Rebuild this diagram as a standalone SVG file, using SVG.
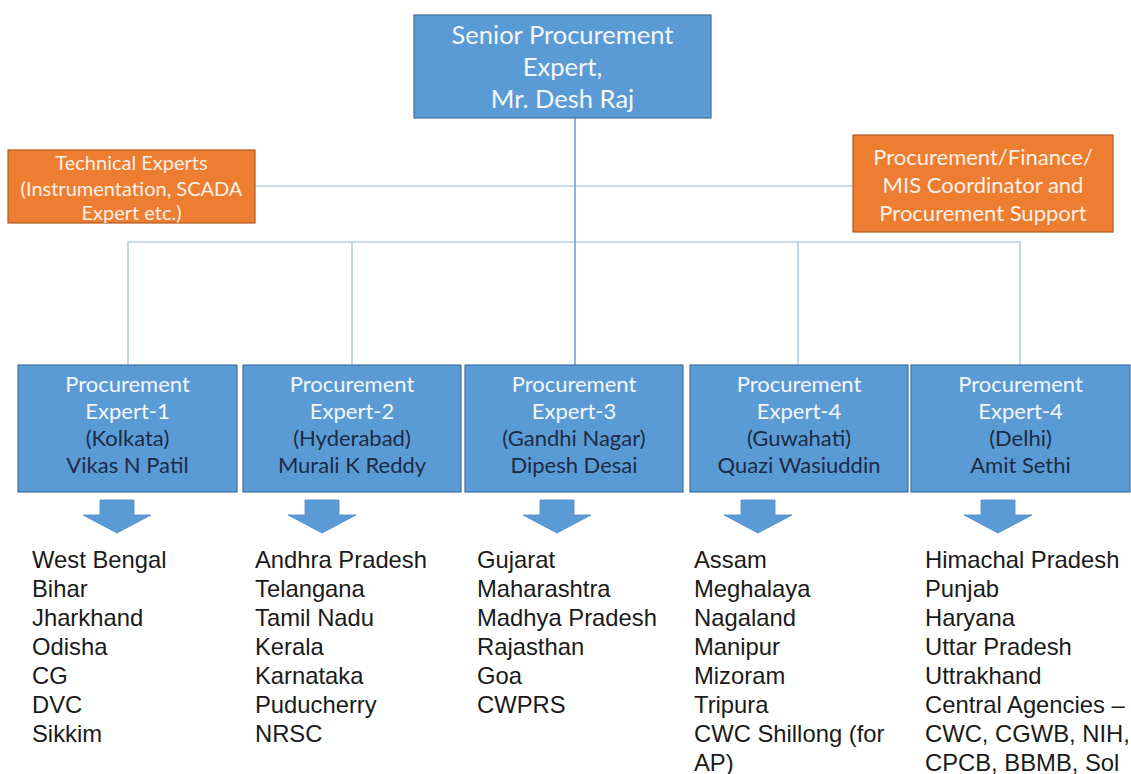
<svg xmlns="http://www.w3.org/2000/svg" width="1131" height="774" viewBox="0 0 1131 774">
  <style>
    .blue { fill: #5b9bd5; stroke: #41719c; stroke-width: 1.2; }
    .orange { fill: #ed7d31; stroke: #ae5a21; stroke-width: 1.2; }
    .hd { font-family: Lato, "Open Sans", sans-serif; text-anchor: middle; }
    .lt { fill: #f4f7fb; }
    .dk { fill: #1c2b45; }
    .ot { fill: #fdf0e6; }
    .list { font-family: "Liberation Sans", Arial, sans-serif; font-size: 23.8px; fill: #1a1a1a; }
    .bus { fill: none; stroke: #b7cbe4; stroke-width: 1.6; }
    .trunk { fill: none; stroke: #6fa3d8; stroke-width: 1.6; }
    .arrow { fill: #5b9bd5; stroke: #4b89c4; stroke-width: 0.8; }
  </style>

  <rect width="1131" height="774" fill="#ffffff"/>

  <!-- connectors -->
  <g id="connectors">
    <line class="bus" x1="255" y1="186" x2="853" y2="186"/>
    <polyline class="bus" points="128,365 128,242 1020,242 1020,365"/>
    <line class="bus" x1="352" y1="242" x2="352" y2="365"/>
    <line class="bus" x1="798" y1="242" x2="798" y2="365"/>
    <line class="trunk" x1="575" y1="118" x2="575" y2="365"/>
  </g>

  <!-- head of procurement -->
  <g id="senior">
    <rect class="blue" x="414" y="15" width="297" height="103"/>
    <g class="hd lt" font-size="25.5">
      <text x="562.5" y="44">Senior Procurement</text>
      <text x="562.5" y="76">Expert,</text>
      <text x="562.5" y="108">Mr. Desh Raj</text>
    </g>
  </g>

  <!-- support roles -->
  <g id="technical">
    <rect class="orange" x="8" y="150" width="247" height="73"/>
    <g class="hd ot" font-size="20">
      <text x="131.5" y="170">Technical Experts</text>
      <text x="131.5" y="196">(Instrumentation, SCADA</text>
      <text x="131.5" y="220">Expert etc.)</text>
    </g>
  </g>

  <g id="coordinator">
    <rect class="orange" x="853" y="135" width="260" height="97"/>
    <g class="hd ot" font-size="22">
      <text x="983" y="165">Procurement/Finance/</text>
      <text x="983" y="193">MIS Coordinator and</text>
      <text x="983" y="221">Procurement Support</text>
    </g>
  </g>

  <!-- regional experts -->
  <g id="expert1">
    <rect class="blue" x="18" y="365" width="219" height="127"/>
    <g class="hd" font-size="22">
      <text class="lt" x="127.5" y="392">Procurement</text>
      <text class="lt" x="127.5" y="419">Expert-1</text>
      <text class="dk" x="127.5" y="446">(Kolkata)</text>
      <text class="dk" x="127.5" y="473">Vikas N Patil</text>
    </g>
  </g>

  <g id="expert2">
    <rect class="blue" x="243" y="365" width="218" height="127"/>
    <g class="hd" font-size="22">
      <text class="lt" x="352" y="392">Procurement</text>
      <text class="lt" x="352" y="419">Expert-2</text>
      <text class="dk" x="352" y="446">(Hyderabad)</text>
      <text class="dk" x="352" y="473">Murali K Reddy</text>
    </g>
  </g>

  <g id="expert3">
    <rect class="blue" x="465" y="365" width="218" height="127"/>
    <g class="hd" font-size="22">
      <text class="lt" x="574" y="392">Procurement</text>
      <text class="lt" x="574" y="419">Expert-3</text>
      <text class="dk" x="574" y="446">(Gandhi Nagar)</text>
      <text class="dk" x="574" y="473">Dipesh Desai</text>
    </g>
  </g>

  <g id="expert4">
    <rect class="blue" x="690" y="365" width="218" height="127"/>
    <g class="hd" font-size="22">
      <text class="lt" x="799" y="392">Procurement</text>
      <text class="lt" x="799" y="419">Expert-4</text>
      <text class="dk" x="799" y="446">(Guwahati)</text>
      <text class="dk" x="799" y="473">Quazi Wasiuddin</text>
    </g>
  </g>

  <g id="expert5">
    <rect class="blue" x="911" y="365" width="219" height="127"/>
    <g class="hd" font-size="22">
      <text class="lt" x="1020.5" y="392">Procurement</text>
      <text class="lt" x="1020.5" y="419">Expert-4</text>
      <text class="dk" x="1020.5" y="446">(Delhi)</text>
      <text class="dk" x="1020.5" y="473">Amit Sethi</text>
    </g>
  </g>

  <!-- block arrows -->
  <defs>
    <polygon id="down" class="arrow" points="-17,0 17,0 17,15 34,15 0,33 -34,15 -17,15"/>
  </defs>
  <g id="arrows">
    <use href="#down" x="117" y="500"/>
    <use href="#down" x="322" y="500"/>
    <use href="#down" x="557" y="500"/>
    <use href="#down" x="758" y="500"/>
    <use href="#down" x="998" y="500"/>
  </g>

  <!-- states covered -->
  <g id="list1" class="list">
    <text x="32" y="568">West Bengal</text>
    <text x="32" y="597">Bihar</text>
    <text x="32" y="626">Jharkhand</text>
    <text x="32" y="655">Odisha</text>
    <text x="32" y="684">CG</text>
    <text x="32" y="713">DVC</text>
    <text x="32" y="742">Sikkim</text>
  </g>

  <g id="list2" class="list">
    <text x="255" y="568">Andhra Pradesh</text>
    <text x="255" y="597">Telangana</text>
    <text x="255" y="626">Tamil Nadu</text>
    <text x="255" y="655">Kerala</text>
    <text x="255" y="684">Karnataka</text>
    <text x="255" y="713">Puducherry</text>
    <text x="255" y="742">NRSC</text>
  </g>

  <g id="list3" class="list">
    <text x="477" y="568">Gujarat</text>
    <text x="477" y="597">Maharashtra</text>
    <text x="477" y="626">Madhya Pradesh</text>
    <text x="477" y="655">Rajasthan</text>
    <text x="477" y="684">Goa</text>
    <text x="477" y="713">CWPRS</text>
  </g>

  <g id="list4" class="list">
    <text x="694" y="568">Assam</text>
    <text x="694" y="597">Meghalaya</text>
    <text x="694" y="626">Nagaland</text>
    <text x="694" y="655">Manipur</text>
    <text x="694" y="684">Mizoram</text>
    <text x="694" y="713">Tripura</text>
    <text x="694" y="742">CWC Shillong (for</text>
    <text x="694" y="771">AP)</text>
  </g>

  <g id="list5" class="list">
    <text x="925" y="568">Himachal Pradesh</text>
    <text x="925" y="597">Punjab</text>
    <text x="925" y="626">Haryana</text>
    <text x="925" y="655">Uttar Pradesh</text>
    <text x="925" y="684">Uttrakhand</text>
    <text x="925" y="713">Central Agencies –</text>
    <text x="925" y="742">CWC, CGWB, NIH,</text>
    <text x="925" y="771">CPCB, BBMB, Sol</text>
  </g>
</svg>
